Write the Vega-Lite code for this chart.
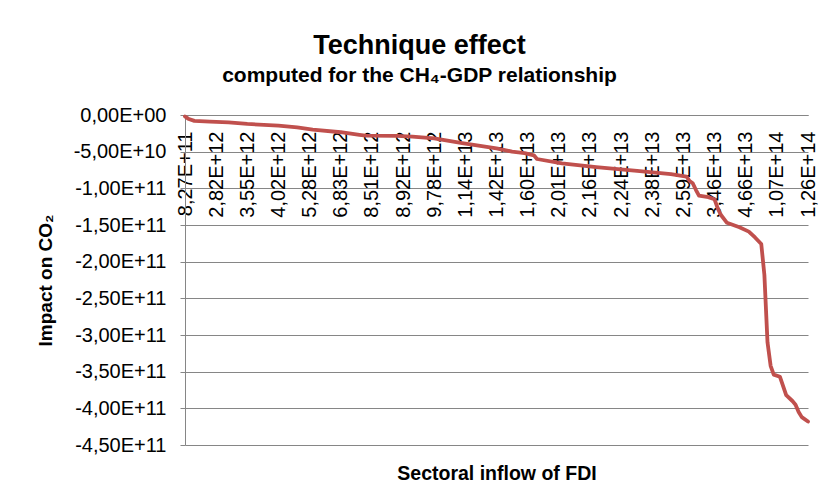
{
  "$schema": "https://vega.github.io/schema/vega-lite/v6.json",
  "width": 623,
  "height": 330,
  "autosize": {"type": "none"},
  "padding": {"left": 185, "top": 115, "right": 11, "bottom": 52},
  "background": "white",
  "title": {
    "text": "Technique effect",
    "subtitle": "computed for the CH₄-GDP relationship",
    "font": "Liberation Sans",
    "fontSize": 27,
    "fontWeight": "bold",
    "color": "black",
    "subtitleFont": "Liberation Sans",
    "subtitleFontSize": 21,
    "subtitleFontWeight": "bold",
    "subtitleColor": "black",
    "anchor": "middle",
    "dx": -77,
    "offset": 18,
    "subtitlePadding": 5
  },
  "data": {
    "values": [
      {"i": 0, "impact": -2e9},
      {"i": 1, "impact": -5e9},
      {"i": 3, "impact": -8e9},
      {"i": 8, "impact": -9e9},
      {"i": 14, "impact": -1.0e10},
      {"i": 20, "impact": -1.22e10},
      {"i": 30, "impact": -1.45e10},
      {"i": 36, "impact": -1.7e10},
      {"i": 41, "impact": -2.0e10},
      {"i": 50, "impact": -2.35e10},
      {"i": 56, "impact": -2.7e10},
      {"i": 58, "impact": -2.8e10},
      {"i": 68, "impact": -2.85e10},
      {"i": 73, "impact": -2.95e10},
      {"i": 80, "impact": -3.2e10},
      {"i": 89, "impact": -3.85e10},
      {"i": 100, "impact": -4.55e10},
      {"i": 105, "impact": -5.0e10},
      {"i": 109, "impact": -5.2e10},
      {"i": 112, "impact": -5.5e10},
      {"i": 113, "impact": -6.0e10},
      {"i": 121, "impact": -6.6e10},
      {"i": 132, "impact": -7.1e10},
      {"i": 146, "impact": -7.65e10},
      {"i": 156, "impact": -8.05e10},
      {"i": 161, "impact": -8.4e10},
      {"i": 162, "impact": -9.0e10},
      {"i": 163, "impact": -9.3e10},
      {"i": 164, "impact": -1.02e11},
      {"i": 165, "impact": -1.1e11},
      {"i": 168, "impact": -1.12e11},
      {"i": 170, "impact": -1.15e11},
      {"i": 171, "impact": -1.27e11},
      {"i": 172, "impact": -1.36e11},
      {"i": 174, "impact": -1.47e11},
      {"i": 178, "impact": -1.53e11},
      {"i": 181, "impact": -1.59e11},
      {"i": 183, "impact": -1.67e11},
      {"i": 185, "impact": -1.76e11},
      {"i": 186, "impact": -2.18e11},
      {"i": 187, "impact": -3.1e11},
      {"i": 188, "impact": -3.42e11},
      {"i": 189, "impact": -3.54e11},
      {"i": 191, "impact": -3.57e11},
      {"i": 193, "impact": -3.82e11},
      {"i": 195, "impact": -3.9e11},
      {"i": 196, "impact": -3.95e11},
      {"i": 197, "impact": -4.05e11},
      {"i": 198, "impact": -4.12e11},
      {"i": 200, "impact": -4.18e11}
    ]
  },
  "encoding": {
    "y": {
      "field": "impact",
      "type": "quantitative",
      "scale": {"domain": [-4.5e11, 0], "nice": false, "zero": false},
      "axis": {
        "title": "Impact on CO₂",
        "values": [0, -5e10, -1e11, -1.5e11, -2e11, -2.5e11, -3e11, -3.5e11, -4e11, -4.5e11],
        "labelExpr": "datum.value == 0 ? '0,00E+00' : '-' + replace(replace(format(abs(datum.value), '.2e'), '.', ','), 'e', 'E')",
        "labelFont": "Liberation Sans",
        "labelFontSize": 20,
        "labelColor": "black",
        "labelPadding": 14,
        "tickSize": 5,
        "tickColor": "#868686",
        "domainColor": "#868686",
        "gridColor": "#868686",
        "grid": true,
        "titleFont": "Liberation Sans",
        "titleFontSize": 19,
        "titleFontWeight": "bold",
        "titleColor": "black",
        "titlePadding": 18
      }
    }
  },
  "layer": [
    {
      "mark": {"type": "line", "color": "#C0504D", "strokeWidth": 3.8, "strokeCap": "round", "strokeJoin": "round"},
      "encoding": {
        "x": {
          "field": "i",
          "type": "quantitative",
          "scale": {"domain": [0, 200], "nice": false, "zero": false},
          "axis": {
            "orient": "top",
            "title": null,
            "values": [0, 10, 20, 30, 40, 50, 60, 70, 80, 90, 100, 110, 120, 130, 140, 150, 160, 170, 180, 190, 200],
            "labelExpr": "['8,27E+11','2,82E+12','3,55E+12','4,02E+12','5,28E+12','6,83E+12','8,51E+12','8,92E+12','9,78E+12','1,14E+13','1,42E+13','1,60E+13','2,01E+13','2,16E+13','2,24E+13','2,38E+13','2,59E+13','3,46E+13','4,66E+13','1,07E+14','1,26E+14'][round(datum.value/10)]",
            "labelAngle": 270,
            "labelAlign": "right",
            "labelBaseline": "middle",
            "labelPadding": -16,
            "labelFont": "Liberation Sans",
            "labelFontSize": 20,
            "labelColor": "black",
            "labelOverlap": false,
            "labelFlush": false,
            "labelBound": false,
            "ticks": false,
            "grid": false,
            "domainColor": "#868686"
          }
        }
      }
    },
    {
      "mark": {"type": "line", "opacity": 0},
      "encoding": {
        "x": {
          "field": "i",
          "type": "quantitative",
          "axis": {
            "orient": "bottom",
            "title": "Sectoral inflow of FDI",
            "labels": false,
            "ticks": false,
            "domain": false,
            "grid": false,
            "titleFont": "Liberation Sans",
            "titleFontSize": 19.5,
            "titleFontWeight": "bold",
            "titleColor": "black",
            "titlePadding": 19
          }
        }
      }
    }
  ],
  "resolve": {"axis": {"x": "independent"}},
  "config": {"view": {"stroke": null}}
}
